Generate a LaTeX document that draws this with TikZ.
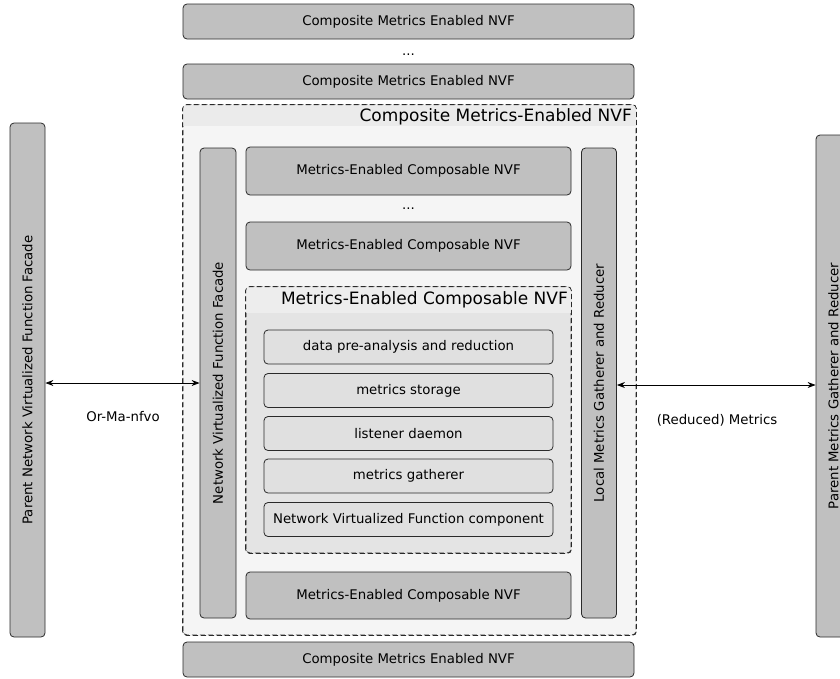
\documentclass[tikz,border=0pt]{standalone}
\usepackage{fontspec}
\setmainfont{DejaVu Sans}
\usetikzlibrary{arrows.meta}
\definecolor{boxgray}{HTML}{C0C0C0}
\definecolor{edgecol}{HTML}{2A2A2A}
\definecolor{outerfill}{HTML}{F5F5F5}
\definecolor{outerhead}{HTML}{EBEBEB}
\definecolor{innerfill}{HTML}{E4E4E4}
\definecolor{innerhead}{HTML}{EDEDED}
\definecolor{compfill}{HTML}{E0E0E0}
\begin{document}
\begin{tikzpicture}[x=1pt,y=-1pt,
  font=\fontsize{13.3}{15}\selectfont,
  graybox/.style={draw=edgecol, fill=boxgray, rounded corners=4pt, line width=0.8pt, inner sep=0pt},
  compbox/.style={draw=edgecol, fill=compfill, rounded corners=4pt, line width=0.8pt, inner sep=0pt, minimum width=289pt, minimum height=34pt},
  container/.style={draw=edgecol, line width=0.8pt, dash pattern=on 5pt off 3pt, rounded corners=4pt, inner sep=0pt},
  headlbl/.style={anchor=east, font=\fontsize{17}{19}\selectfont, inner sep=0pt},
  link/.style={draw=black, line width=0.8pt, {Stealth[length=8pt,width=6pt]}-{Stealth[length=8pt,width=6pt]}},
  plain/.style={inner sep=0pt}
]
\useasboundingbox (0,0) rectangle (840,678);

% top stack
\node[graybox, minimum width=451pt, minimum height=35pt] (top1) at (408.5,21.5) {Composite Metrics Enabled NVF};
\node[plain] (dots1) at (408.5,55) {...};
\node[graybox, minimum width=451pt, minimum height=35pt] (top2) at (408.5,81.5) {Composite Metrics Enabled NVF};

% outer container
\node[container, fill=outerfill, minimum width=453pt, minimum height=530pt] (outer) at (409.5,370) {};
\begin{scope}
  \clip[rounded corners=4pt] (outer.south west) rectangle (outer.north east);
  \fill[outerhead] (outer.north west) rectangle ([yshift=-21pt]outer.north east);
\end{scope}
\draw[container] (outer.south west) rectangle (outer.north east);
\node[headlbl] (outerlbl) at (632,117) {Composite Metrics-Enabled NVF};

% bottom box
\node[graybox, minimum width=451pt, minimum height=35pt] (bot) at (408.5,659.5) {Composite Metrics Enabled NVF};

% vertical bars
\node[graybox, minimum width=35pt, minimum height=514pt,
  label={[rotate=90]center:Parent Network Virtualized Function Facade}] (leftbar) at (27.5,380) {};
\node[graybox, minimum width=36pt, minimum height=470pt,
  label={[rotate=90]center:Network Virtualized Function Facade}] (facade) at (218,383) {};
\node[graybox, minimum width=35pt, minimum height=470pt,
  label={[rotate=90]center:Local Metrics Gatherer and Reducer}] (gatherer) at (599,383) {};
\node[graybox, minimum width=35pt, minimum height=502pt,
  label={[rotate=90]center:Parent Metrics Gatherer and Reducer}] (rightbar) at (833.5,386) {};

% composable NVFs
\node[graybox, minimum width=325pt, minimum height=48pt] (mc1) at (408.5,171) {Metrics-Enabled Composable NVF};
\node[plain] (dots2) at (408.5,209) {...};
\node[graybox, minimum width=325pt, minimum height=48pt] (mc2) at (408.5,246) {Metrics-Enabled Composable NVF};
\node[graybox, minimum width=325pt, minimum height=47pt] (mcb) at (408.5,595.5) {Metrics-Enabled Composable NVF};

% inner container
\node[container, fill=innerfill, minimum width=325pt, minimum height=266pt] (inner) at (408.5,420) {};
\begin{scope}
  \clip[rounded corners=4pt] (inner.south west) rectangle (inner.north east);
  \fill[innerhead] (inner.north west) rectangle ([yshift=-26pt]inner.north east);
\end{scope}
\draw[container] (inner.south west) rectangle (inner.north east);
\node[headlbl] (innerlbl) at (568,300) {Metrics-Enabled Composable NVF};

% components
\node[compbox] (c1) at (408.5,347) {data pre-analysis and reduction};
\node[compbox] (c2) at (408.5,390.5) {metrics storage};
\node[compbox] (c3) at (408.5,433.5) {listener daemon};
\node[compbox] (c4) at (408.5,476) {metrics gatherer};
\node[compbox] (c5) at (408.5,519.5) {Network Virtualized Function component};

% connectors
\draw[link] ([yshift=-3pt]leftbar.east) -- (facade.west);
\node[plain] (lbl1) at (123,417) {Or-Ma-nfvo};
\draw[link] ([yshift=-2pt]gatherer.east) -- ([yshift=1pt]rightbar.west);
\node[plain] (lbl2) at (717,420) {(Reduced) Metrics};
\end{tikzpicture}
\end{document}
